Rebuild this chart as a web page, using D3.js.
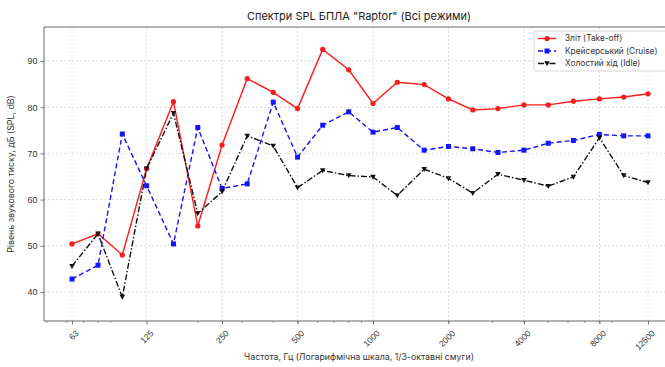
<!DOCTYPE html>
<html>
<head>
<meta charset="utf-8">
<script src="https://cdn.jsdelivr.net/npm/d3@7"></script>
<style>
  html, body { margin: 0; padding: 0; background: #fff; }
  svg { display: block; font-family: Inter, "Noto Sans", sans-serif; }
</style>
</head>
<body>
<svg id="chart" width="665" height="367"></svg>
<script>
// 1/3-octave band centre frequencies, Hz
const bands = [63, 80, 100, 125, 160, 200, 250, 315, 400, 500, 630, 800,
               1000, 1250, 1600, 2000, 2500, 3150, 4000, 5000, 6300, 8000, 10000, 12500];

// SPL per band, dB
const takeoff = [50.4, 52.6, 48.0, 66.7, 81.2, 54.3, 71.8, 86.2, 83.2, 79.7, 92.5, 88.1,
                 80.8, 85.4, 84.9, 81.8, 79.4, 79.7, 80.5, 80.5, 81.3, 81.8, 82.2, 82.9];
const cruise  = [42.8, 45.8, 74.2, 63.0, 50.4, 75.6, 62.4, 63.4, 81.1, 69.2, 76.1, 79.0,
                 74.6, 75.6, 70.7, 71.5, 71.0, 70.2, 70.7, 72.2, 72.8, 74.1, 73.8, 73.8];
const idle    = [45.6, 52.6, 38.9, 66.7, 78.7, 57.0, 61.7, 73.8, 71.6, 62.6, 66.3, 65.2,
                 64.9, 60.9, 66.6, 64.6, 61.4, 65.5, 64.2, 62.9, 64.9, 73.4, 65.2, 63.7];

const seriesNames = ["Зліт (Take-off)", "Крейсерський (Cruise)", "Холостий хід (Idle)"];
const xTicks = [63, 125, 250, 500, 1000, 2000, 4000, 8000, 12500];
const yTicks = [40, 50, 60, 70, 80, 90];

const titleText = "Спектри SPL БПЛА \"Raptor\" (Всі режими)";
const xLabel = "Частота, Гц (Логарифмічна шкала, 1/3-октавні смуги)";
const yLabel = "Рівень звукового тиску, дБ (SPL, dB)";

const svg = d3.select("#chart");
const plot = { left: 44, right: 677, top: 27, bottom: 321 };

const x = d3.scaleLog().domain([63, 12500]).range([72, 648]);
const xMin = x.invert(plot.left), xMax = x.invert(plot.right);
x.domain([xMin, xMax]).range([plot.left, plot.right]);

const y = d3.scaleLinear().domain([33.72, 97.36]).range([plot.bottom, plot.top]);

const gridColor = "#d4d4d4";
const axisColor = "#555";
const textColor = "#333";

// grid
const grid = svg.append("g");
grid.selectAll("line.gx").data(xTicks).join("line")
  .attr("x1", d => x(d)).attr("x2", d => x(d))
  .attr("y1", plot.top).attr("y2", plot.bottom)
  .attr("stroke", gridColor).attr("stroke-width", 0.8).attr("stroke-dasharray", "2,2");
grid.selectAll("line.gy").data(yTicks).join("line")
  .attr("x1", plot.left).attr("x2", plot.right)
  .attr("y1", d => y(d)).attr("y2", d => y(d))
  .attr("stroke", gridColor).attr("stroke-width", 0.8).attr("stroke-dasharray", "2,2");

// minor log ticks (2..9 x 10^k)
const minor = [];
for (let k = 1; k <= 4; k++) for (let m = 2; m <= 9; m++) {
  const v = m * Math.pow(10, k);
  if (v > xMin && v < xMax) minor.push(v);
}

// x axis
const xAxis = svg.append("g").attr("transform", `translate(0,${plot.bottom})`);
xAxis.selectAll("line.minor").data(minor).join("line")
  .attr("x1", d => x(d)).attr("x2", d => x(d)).attr("y1", 0).attr("y2", 2)
  .attr("stroke", axisColor).attr("stroke-width", 0.6);
xAxis.call(d3.axisBottom(x).tickValues(xTicks).tickFormat(d3.format("d")).tickSize(3.5).tickPadding(2));
xAxis.select(".domain").remove();
xAxis.selectAll(".tick line").attr("stroke", axisColor).attr("stroke-width", 0.8);
xAxis.selectAll(".tick text")
  .attr("fill", textColor).attr("font-size", 8.5)
  .attr("text-anchor", "end").attr("dy", 0)
  .attr("transform", "translate(3,9) rotate(-45)");

// y axis
const yAxis = svg.append("g").attr("transform", `translate(${plot.left},0)`);
yAxis.call(d3.axisLeft(y).tickValues(yTicks).tickSize(3.5).tickPadding(3));
yAxis.select(".domain").remove();
yAxis.selectAll(".tick line").attr("stroke", axisColor).attr("stroke-width", 0.8);
yAxis.selectAll(".tick text").attr("fill", textColor).attr("font-size", 9);

// spines
svg.append("path")
  .attr("d", `M${plot.right},${plot.top}H${plot.left}V${plot.bottom}H${plot.right}`)
  .attr("fill", "none").attr("stroke", axisColor).attr("stroke-width", 0.9);

// series
const series = [
  { name: seriesNames[0], values: takeoff, color: "#ff1a1a", dash: null, marker: "circle" },
  { name: seriesNames[1], values: cruise, color: "#1414ff", dash: "5,3", marker: "square" },
  { name: seriesNames[2], values: idle, color: "#111", dash: "6,2,1.5,2", marker: "tri" }
];

const line = d3.line().x(d => x(d[0])).y(d => y(d[1]));

function drawMarker(g, type, color) {
  if (type === "circle") {
    g.append("circle").attr("r", 2.6).attr("fill", color);
  } else if (type === "square") {
    g.append("rect").attr("x", -2.5).attr("y", -2.5).attr("width", 5).attr("height", 5).attr("fill", color);
  } else {
    g.append("path").attr("d", "M-2.8,-2.2L2.8,-2.2L0,2.8Z").attr("fill", color);
  }
}

series.forEach(s => {
  const pts = bands.map((b, i) => [b, s.values[i]]);
  svg.append("path").datum(pts)
    .attr("d", line).attr("fill", "none")
    .attr("stroke", s.color).attr("stroke-width", 1.4)
    .attr("stroke-dasharray", s.dash);
  svg.append("g").selectAll("g").data(pts).join("g")
    .attr("transform", d => `translate(${x(d[0])},${y(d[1])})`)
    .each(function() { drawMarker(d3.select(this), s.marker, s.color); });
});

// legend
const lg = svg.append("g").attr("transform", "translate(534,31)");
lg.append("rect").attr("width", 150).attr("height", 40).attr("rx", 2)
  .attr("fill", "#fff").attr("fill-opacity", 0.85)
  .attr("stroke", "#ccc").attr("stroke-width", 0.8);
series.forEach((s, i) => {
  const row = lg.append("g").attr("transform", `translate(0,${7.5 + i * 12.5})`);
  row.append("line").attr("x1", 4).attr("x2", 22)
    .attr("stroke", s.color).attr("stroke-width", 1.4).attr("stroke-dasharray", s.dash);
  const m = row.append("g").attr("transform", "translate(13,0)");
  drawMarker(m, s.marker, s.color);
  row.append("text").attr("x", 31).attr("y", 0).attr("dy", "0.35em")
    .attr("font-size", 8.3).attr("fill", textColor).text(s.name);
});

// title and axis labels
svg.append("text").attr("x", 359).attr("y", 20).attr("text-anchor", "middle")
  .attr("font-size", 11).attr("fill", "#222").text(titleText);
svg.append("text").attr("x", 359).attr("y", 360).attr("text-anchor", "middle")
  .attr("font-size", 8.8).attr("fill", textColor).text(xLabel);
svg.append("text").attr("transform", `translate(14,${(plot.top + plot.bottom) / 2}) rotate(-90)`)
  .attr("text-anchor", "middle").attr("font-size", 8.8).attr("fill", textColor).text(yLabel);
</script>
</body>
</html>
